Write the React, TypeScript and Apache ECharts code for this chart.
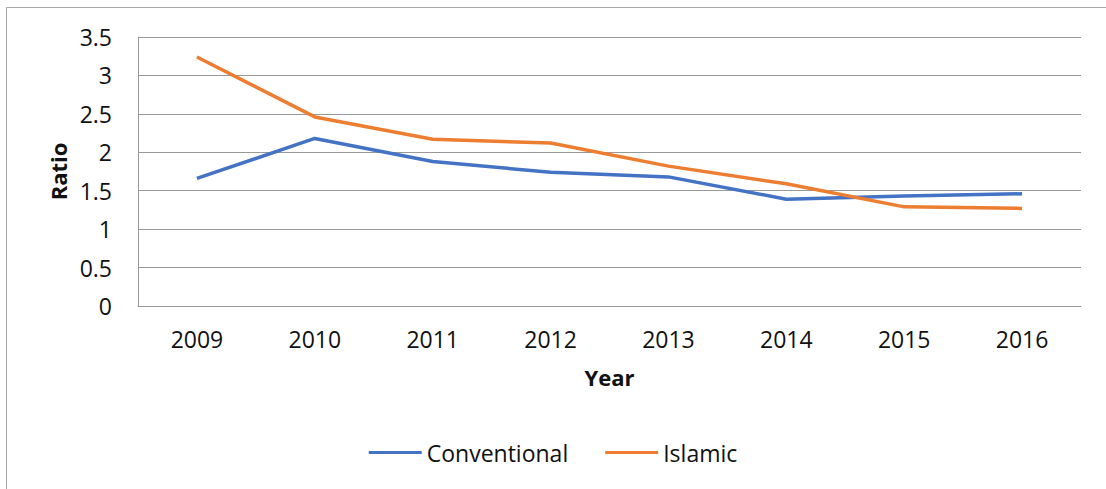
import React, { useEffect, useRef } from "react";
import * as echarts from "echarts";

const years = ["2009", "2010", "2011", "2012", "2013", "2014", "2015", "2016"];
const conventional = [1.66, 2.18, 1.88, 1.74, 1.68, 1.39, 1.43, 1.46];
const islamic = [3.24, 2.46, 2.17, 2.12, 1.82, 1.59, 1.29, 1.27];

const FONT = "Open Sans";
const TEXT = "#111";

export default function App() {
  const ref = useRef<HTMLDivElement>(null);

  useEffect(() => {
    document.body.style.margin = "0";
    if (!ref.current) return;
    const chart = echarts.init(ref.current, null, { renderer: "svg" });
    chart.setOption({
      animation: false,
      backgroundColor: "#ffffff",
      textStyle: { fontFamily: FONT },
      graphic: [
        {
          type: "rect",
          shape: { x: 6.5, y: 7.5, width: 1200, height: 600 },
          style: { fill: "none", stroke: "#a6a6a6", lineWidth: 1 },
          silent: true,
        },
      ],
      grid: { left: 138, top: 37, right: 25, bottom: 183 },
      legend: {
        bottom: 20,
        left: "center",
        icon: "rect",
        itemWidth: 53,
        itemHeight: 3,
        itemGap: 37,
        textStyle: { fontFamily: FONT, fontSize: 23, color: TEXT },
        data: ["Conventional", "Islamic"],
      },
      xAxis: {
        type: "category",
        data: years,
        boundaryGap: true,
        name: "Year",
        nameLocation: "middle",
        nameGap: 60,
        nameTextStyle: { fontFamily: FONT, fontSize: 22, fontWeight: "bold", color: TEXT },
        axisLine: { show: true, lineStyle: { color: "#999", width: 1 } },
        axisTick: { show: false },
        axisLabel: { fontFamily: FONT, fontSize: 23, color: TEXT, margin: 21 },
      },
      yAxis: {
        type: "value",
        min: 0,
        max: 3.5,
        interval: 0.5,
        name: "Ratio",
        nameLocation: "middle",
        nameGap: 69,
        nameRotate: 90,
        nameTextStyle: { fontFamily: FONT, fontSize: 22, fontWeight: "bold", color: TEXT },
        axisLine: { show: true, lineStyle: { color: "#999", width: 1 } },
        axisTick: { show: false },
        axisLabel: { fontFamily: FONT, fontSize: 23, color: TEXT, margin: 26 },
        splitLine: { show: true, lineStyle: { color: "#999", width: 1 } },
      },
      series: [
        {
          name: "Conventional",
          type: "line",
          data: conventional,
          symbol: "none",
          lineStyle: { color: "#4472C4", width: 3.5 },
          itemStyle: { color: "#4472C4" },
        },
        {
          name: "Islamic",
          type: "line",
          data: islamic,
          symbol: "none",
          lineStyle: { color: "#ED7D31", width: 3.5 },
          itemStyle: { color: "#ED7D31" },
        },
      ],
    });
    return () => chart.dispose();
  }, []);

  return <div ref={ref} style={{ width: 1106, height: 489 }} />;
}
